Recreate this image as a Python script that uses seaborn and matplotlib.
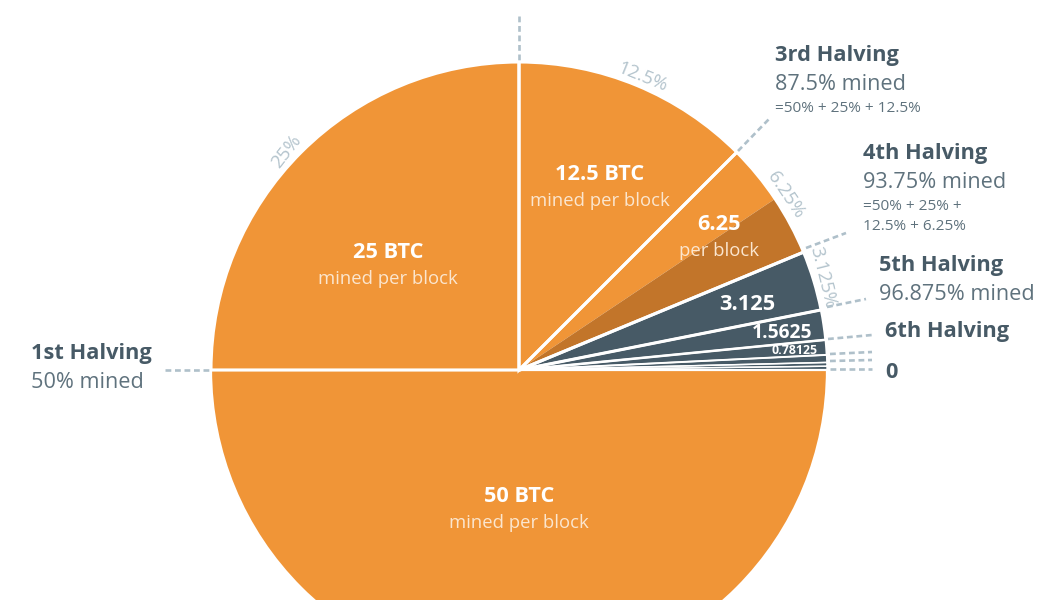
import matplotlib
matplotlib.use("Agg")
import matplotlib.pyplot as plt
import seaborn as sns

# BTC block reward slices, clockwise from the 1st halving (share of supply in %)
slice_values = [25, 12.5, 3.125, 3.125, 3.125, 1.5625, 0.78125, 0.390625, 0.1953125, 0.1953125, 50]
slice_colors = ["#F09537", "#F09537", "#F09537", "#C2752A", "#475A66", "#475A66", "#475A66",
                "#475A66", "#475A66", "#475A66", "#F09537"]
# same thing but the 6.25 slice in one piece, used for the white borders
border_values = [25, 12.5, 6.25, 3.125, 1.5625, 0.78125, 0.390625, 0.1953125, 0.1953125, 50]
border_widths = [2.2, 2.2, 2.2, 2.2, 1.8, 1.4, 1.1, 1.0, 1.0, 1.6]

reward_labels = ["25 BTC", "12.5 BTC", "6.25", "3.125", "1.5625", "0.78125", "50 BTC"]
reward_subs = ["mined per block", "mined per block", "per block", "", "", "", "mined per block"]
reward_x = [388, 600, 719, 747, 782, 794, 519]
reward_y = [251, 173, 223, 303, 331, 348, 495]
reward_size = [15.7, 15.7, 15.7, 15.7, 13.9, 8.9, 15.7]

pct_labels = ["25%", "12.5%", "6.25%", "3.125%"]
pct_x = [286, 642, 786, 823]
pct_y = [149, 75, 193, 275]
pct_rot = [52, -22, -56, -76]

GREY = "#475A66"
MUTED = "#5F727D"
LEADER = "#AFC0CA"

sns.set_theme(style="white")
plt.rcParams["font.family"] = ["Open Sans", "DejaVu Sans"]

fig = plt.figure(figsize=(10.5, 6), dpi=100)
ax = fig.add_axes([0, 0, 1, 1])

ax.pie(slice_values, colors=slice_colors, startangle=180, counterclock=False,
       radius=308, center=(519, 230), wedgeprops=dict(linewidth=0), frame=True)
wedges, _ = ax.pie(border_values, colors=["none"] * len(border_values), startangle=180, counterclock=False,
                   radius=308, center=(519, 230), frame=True,
                   wedgeprops=dict(edgecolor="white", joinstyle="miter"))
for wedge, width in zip(wedges, border_widths):
    wedge.set_linewidth(width)

ax.set_xlim(0, 1050)
ax.set_ylim(0, 600)
ax.set_aspect("equal")
ax.axis("off")


def put(x, y, s, **kw):
    # y given from the top of the image, +2 because va center sits high with this font
    ax.text(x, 600 - y - 2, s, va="center", **kw)


def leader(x0, y0, x1, y1):
    ax.plot([x0, x1], [600 - y0, 600 - y1], color=LEADER, lw=1.9, dashes=(2.2, 1.4), clip_on=False)


# labels inside the slices
for lab, sub, x, y, size in zip(reward_labels, reward_subs, reward_x, reward_y, reward_size):
    put(x, y, lab, ha="center", color="white", fontsize=size, fontweight="bold")
    if sub:
        put(x, y + 26, sub, ha="center", color="#FBE6CF", fontsize=13.3)

# percentages along the rim
for lab, x, y, rot in zip(pct_labels, pct_x, pct_y, pct_rot):
    put(x, y, lab, ha="center", rotation=rot, color="#B4C4CD", fontsize=13.5)

# halving labels
put(31, 351, "1st Halving", color=GREY, fontsize=15.7, fontweight="bold")
put(31, 380, "50% mined", color=MUTED, fontsize=15.6)
put(775, 54, "3rd Halving", color=GREY, fontsize=15.7, fontweight="bold")
put(775, 83, "87.5% mined", color=MUTED, fontsize=15.6)
put(775, 106, "=50% + 25% + 12.5%", color=MUTED, fontsize=11.1)
put(863, 152, "4th Halving", color=GREY, fontsize=15.7, fontweight="bold")
put(863, 181, "93.75% mined", color=MUTED, fontsize=15.6)
put(863, 204, "=50% + 25% +", color=MUTED, fontsize=11.1)
put(863, 225, "12.5% + 6.25%", color=MUTED, fontsize=11.1)
put(879, 264, "5th Halving", color=GREY, fontsize=15.7, fontweight="bold")
put(879, 293, "96.875% mined", color=MUTED, fontsize=15.6)
put(885, 330, "6th Halving", color=GREY, fontsize=15.7, fontweight="bold")
put(885, 370, "0", color=GREY, fontsize=15.7, fontweight="bold")
# cut off by the top edge in the original too
put(505, -7, "75% mined", ha="center", color=MUTED, fontsize=15.6)

# dashed leaders
leader(165, 370, 210, 370)
leader(519, 16, 519, 60)
leader(738, 151, 770, 118)
leader(806, 248, 846, 233)
leader(827, 307, 866, 299)
leader(828, 339, 872, 335)
leader(830, 354, 872, 352)
leader(830, 361, 872, 360)
leader(830, 369, 872, 369)

fig.savefig("out.png", dpi=100)
